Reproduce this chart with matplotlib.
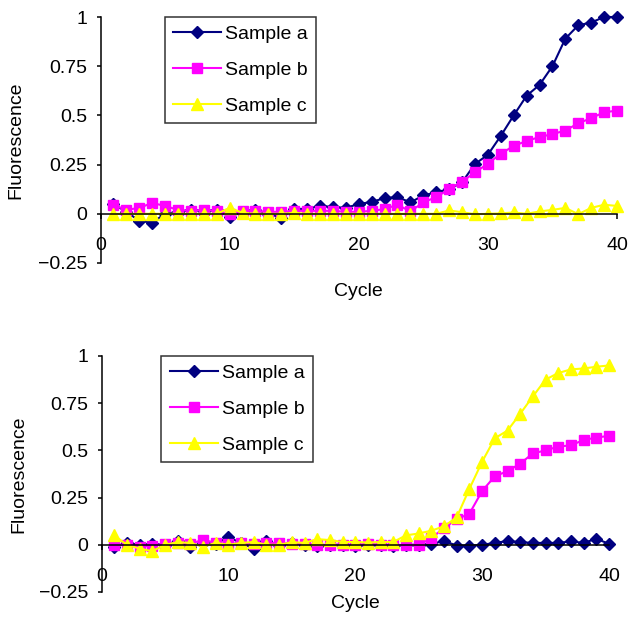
import matplotlib
matplotlib.use("Agg")
import matplotlib.pyplot as plt

plt.rcParams['font.family'] = ['Liberation Sans', 'DejaVu Sans']

cycles = list(range(1, 41))
series_names = ['Sample a', 'Sample b', 'Sample c']
colors = ['#000080', '#FF00FF', '#FFFF00']
markers = ['D', 's', '^']
marker_sizes = [6.2, 7.2, 8.5]

x_ticks = [0, 10, 20, 30, 40]
x_tick_labels = ['0', '10', '20', '30', '40']
y_ticks = [-0.25, 0, 0.25, 0.5, 0.75, 1]
y_tick_labels = ['\u22120.25', '0', '0.25', '0.5', '0.75', '1']

top_a = [0.05, 0.01, -0.035, -0.045, 0.0, 0.01, 0.02, 0.015, 0.02, -0.015,
         0.01, 0.02, 0.0, -0.02, 0.025, 0.025, 0.04, 0.035, 0.03, 0.05,
         0.06, 0.08, 0.085, 0.058, 0.093, 0.11, 0.125, 0.16, 0.253, 0.30,
         0.396, 0.50, 0.60, 0.655, 0.75, 0.89, 0.958, 0.972, 1.0, 1.0]
top_b = [0.045, 0.02, 0.03, 0.055, 0.04, 0.02, 0.015, 0.02, 0.015, 0.0,
         0.015, 0.015, 0.01, 0.01, 0.015, 0.015, 0.015, 0.015, 0.01, 0.01,
         0.015, 0.024, 0.046, 0.012, 0.058, 0.085, 0.125, 0.164, 0.21, 0.255,
         0.305, 0.345, 0.37, 0.39, 0.405, 0.423, 0.46, 0.486, 0.516, 0.524]
top_c = [0.0, 0.0, 0.0, 0.0, 0.0, 0.0, 0.0, 0.0, 0.0, 0.03,
         0.005, 0.0, 0.0, 0.0, 0.005, 0.0, 0.0, 0.0, 0.0, 0.0,
         0.0, 0.0, 0.0, 0.0, 0.0, 0.0, 0.017, 0.008, -0.002, 0.0,
         0.002, 0.007, 0.0, 0.012, 0.02, 0.03, -0.002, 0.03, 0.046, 0.04]

bot_a = [-0.01, 0.01, 0.0, 0.005, 0.0, 0.02, -0.01, 0.01, 0.005, 0.04,
         0.01, -0.02, 0.02, 0.0, 0.01, 0.0, -0.005, 0.0, 0.0, -0.005,
         0.0, 0.0, -0.005, 0.0, 0.0, 0.005, 0.02, -0.004, -0.004, 0.0,
         0.01, 0.02, 0.014, 0.01, 0.01, 0.01, 0.018, 0.01, 0.032, 0.005]
bot_b = [0.0, 0.0, -0.01, -0.005, 0.005, 0.01, 0.005, 0.027, 0.01, 0.005,
         0.01, 0.005, 0.01, 0.01, 0.005, 0.005, 0.0, 0.0, 0.0, 0.0,
         0.005, 0.0, 0.0, -0.002, 0.0, 0.035, 0.09, 0.135, 0.165, 0.285,
         0.363, 0.39, 0.43, 0.484, 0.50, 0.52, 0.527, 0.555, 0.568, 0.577]
bot_c = [0.05, 0.0, -0.02, -0.034, 0.0, 0.014, 0.01, -0.01, 0.01, 0.0,
         0.01, 0.015, 0.0, 0.0, 0.014, 0.01, 0.03, 0.025, 0.015, 0.015,
         0.012, 0.015, 0.015, 0.05, 0.06, 0.075, 0.098, 0.146, 0.297, 0.44,
         0.564, 0.605, 0.694, 0.786, 0.875, 0.91, 0.929, 0.934, 0.943, 0.95]

W, H = 629, 619
fig = plt.figure(figsize=(W / 100, H / 100), dpi=100)

FS = 14


def make_panel(rect, data, legend_left, xlabel_y):
    ax = fig.add_axes(rect)
    for vals, name, col, mk, ms in zip(data, series_names, colors, markers, marker_sizes):
        ax.plot(cycles, vals, color=col, marker=mk, markersize=ms,
                markerfacecolor=col, markeredgecolor=col, linewidth=1.5,
                label=name, clip_on=False)
    ax.set_xlim(0, 40)
    ax.set_ylim(-0.25, 1)
    ax.spines['top'].set_visible(False)
    ax.spines['right'].set_visible(False)
    ax.spines['bottom'].set_position(('data', 0))
    ax.spines['bottom'].set_linewidth(1.1)
    ax.spines['left'].set_linewidth(1.1)
    ax.set_xticks(x_ticks)
    ax.set_xticklabels(x_tick_labels)
    ax.set_yticks(y_ticks)
    ax.set_yticklabels(y_tick_labels)
    ax.tick_params(axis='x', direction='out', length=3.5, width=1.1,
                   labelsize=FS, pad=13)
    ax.tick_params(axis='y', direction='out', length=3, width=1.1,
                   labelsize=FS, pad=6.5)
    ax.set_xlabel('Cycle', fontsize=FS)
    ax.xaxis.label.set_va('center')
    ax.xaxis.set_label_coords(0.5, xlabel_y)
    ax.set_ylabel('Fluorescence', fontsize=FS)
    ax.yaxis.label.set_va('center')
    ax.yaxis.set_label_coords(-0.163, 0.5)
    leg = ax.legend(loc='upper left', bbox_to_anchor=(legend_left, 1.0),
                    fontsize=FS, frameon=True, fancybox=False, shadow=False,
                    borderaxespad=0, borderpad=0.42, handlelength=2.5,
                    handletextpad=0.2, labelspacing=0.95)
    leg.get_frame().set_edgecolor('black')
    leg.get_frame().set_linewidth(1.1)
    return ax


make_panel([100.5 / W, 1 - 263 / H, 516.5 / W, 246 / H], [top_a, top_b, top_c], 0.124, -0.115)
make_panel([101.5 / W, 1 - 592 / H, 507.5 / W, 236 / H], [bot_a, bot_b, bot_c], 0.118, -0.05)

fig.savefig('out.png', dpi=100)
